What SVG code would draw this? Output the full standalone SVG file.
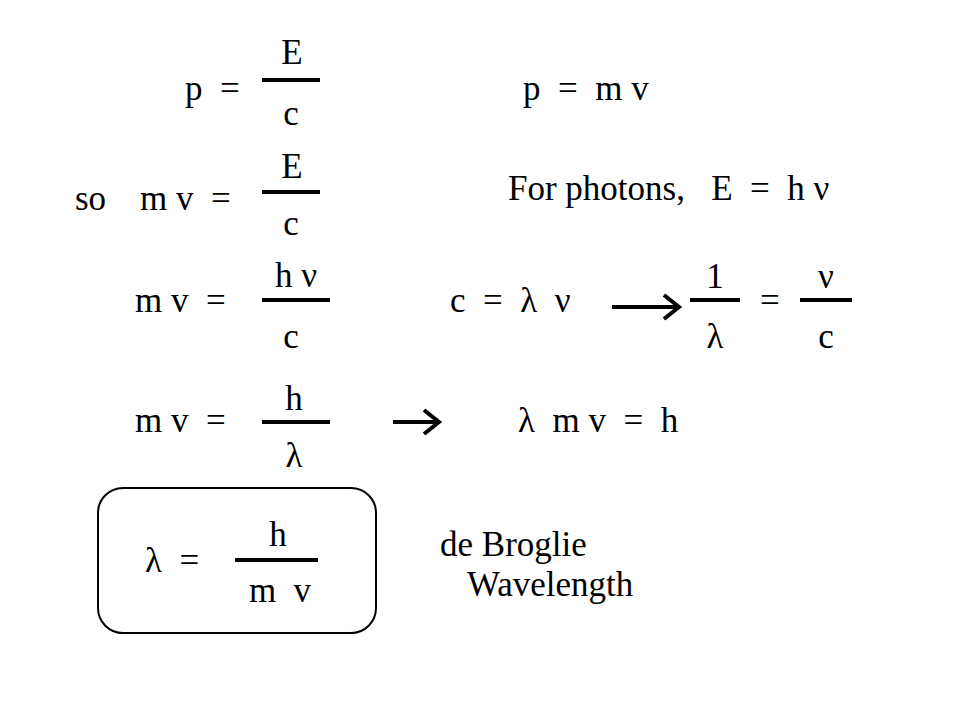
<svg xmlns="http://www.w3.org/2000/svg" width="960" height="720" viewBox="0 0 960 720">
<style>
text{font-family:"Liberation Serif","Times New Roman",serif;font-size:35px;fill:#000;white-space:pre}
.m{text-anchor:middle}
.bar{stroke:#000;stroke-width:4}
.arr{stroke:#000;stroke-width:4;fill:none}
</style>
<rect width="960" height="720" fill="#fff"/>
<g id="eq1">
<text x="185" y="100" xml:space="preserve">p  =</text>
<text class="m" x="292" y="64">E</text><line class="bar" x1="262" y1="80" x2="320" y2="80"/><text class="m" x="291" y="125">c</text>
</g>
<text x="523" y="100" xml:space="preserve">p  =  m v</text>
<g id="eq2">
<text x="75" y="210">so</text><text x="140" y="210" xml:space="preserve">m v  =</text>
<text class="m" x="292" y="178">E</text><line class="bar" x1="262" y1="192" x2="320" y2="192"/><text class="m" x="291" y="235">c</text>
</g>
<text x="508" y="200" xml:space="preserve">For photons,   E  =  h ν</text>
<g id="eq3">
<text x="135" y="312" xml:space="preserve">m v  =</text>
<text class="m" x="296" y="287">h ν</text><line class="bar" x1="262" y1="300" x2="330" y2="300"/><text class="m" x="291" y="348">c</text>
</g>
<g id="eq4">
<text x="450" y="312" xml:space="preserve">c  =  λ  ν</text>
<path class="arr" d="M612 307H678M664 295L679 307L664 319"/>
<text class="m" x="715" y="288">1</text><line class="bar" x1="690" y1="300" x2="740" y2="300"/><text class="m" x="715" y="348">λ</text>
<text x="760" y="312">=</text>
<text class="m" x="826" y="288">ν</text><line class="bar" x1="800" y1="300" x2="852" y2="300"/><text class="m" x="826" y="348">c</text>
</g>
<g id="eq5">
<text x="135" y="432" xml:space="preserve">m v  =</text>
<text class="m" x="294" y="410">h</text><line class="bar" x1="262" y1="422" x2="330" y2="422"/><text class="m" x="294" y="467">λ</text>
<path class="arr" d="M393 422H438M424 410L439 422L424 434"/>
<text x="518" y="432" xml:space="preserve">λ  m v  =  h</text>
</g>
<g id="result">
<rect x="98" y="488" width="278" height="145" rx="25" fill="none" stroke="#000" stroke-width="2"/>
<text x="145" y="572" xml:space="preserve">λ  =</text>
<text class="m" x="278" y="546">h</text><line class="bar" x1="235" y1="560" x2="318" y2="560"/><text class="m" x="280" y="602" xml:space="preserve">m  v</text>
</g>
<text x="440" y="556">de Broglie</text>
<text x="467" y="596">Wavelength</text>
</svg>
